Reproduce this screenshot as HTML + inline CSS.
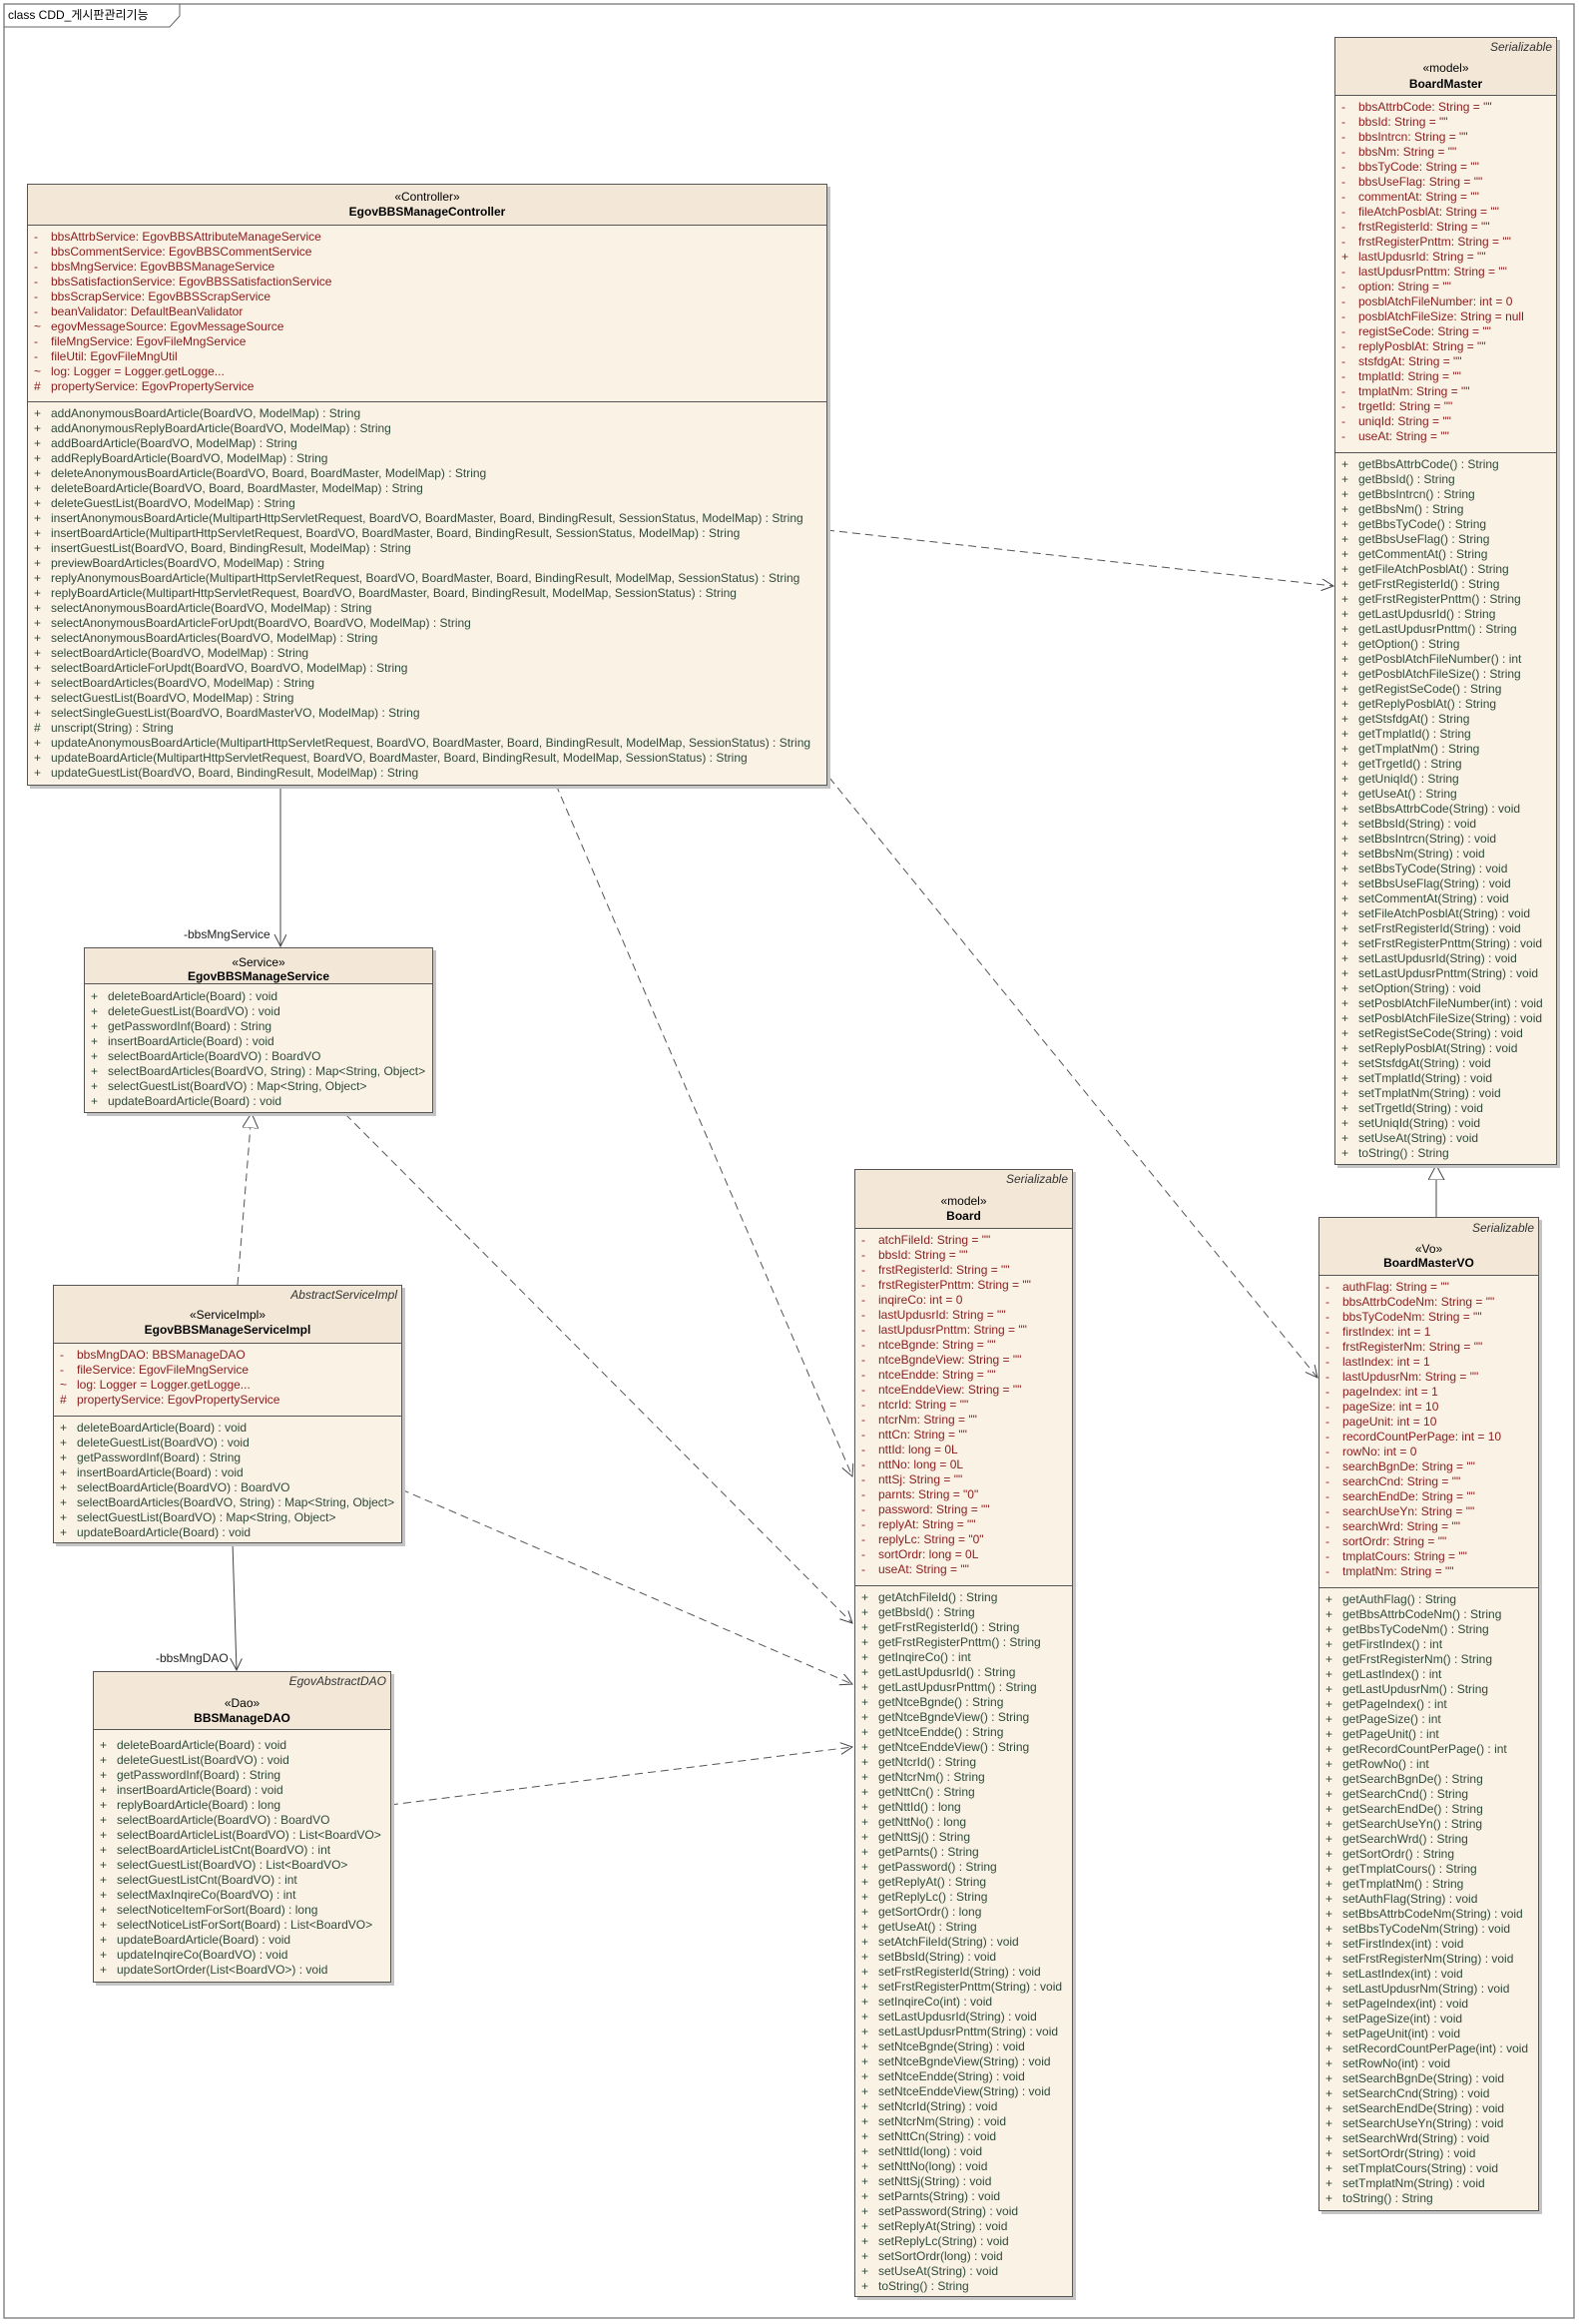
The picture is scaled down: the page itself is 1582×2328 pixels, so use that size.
<!DOCTYPE html>
<html><head><meta charset="utf-8">
<style>
html,body{margin:0;padding:0;background:#fff;}
body{width:1582px;height:2328px;position:relative;overflow:hidden;font-family:"Liberation Sans","Noto Sans CJK KR",sans-serif;font-size:12px;letter-spacing:0px;}
svg.c{position:absolute;left:0;top:0;}
.b{position:absolute;background:#fbf2e6;border:1px solid #555;box-shadow:3px 3px 0 #c4c4c4;box-sizing:border-box;}
.h{position:relative;background:#f3e8d8;border-bottom:1px solid #555;box-sizing:border-box;color:#000;}
.t{position:absolute;left:0;right:0;height:15px;line-height:15px;text-align:center;white-space:nowrap;}
.a{text-align:right;padding-right:4px;font-style:italic;color:#333;}
.n{font-weight:bold;}
.s{box-sizing:border-box;border-bottom:1px solid #555;}
.s:last-child{border-bottom:none;}
.l{height:15px;line-height:15px;white-space:nowrap;position:relative;padding-left:23px;}
.l i{position:absolute;left:6px;font-style:normal;}
.at{color:#8a1c1c;}
.me{color:#2e4a3a;}
.lab{position:absolute;font-size:12px;color:#222;white-space:nowrap;}
</style></head><body>

<svg class="c" width="1582" height="2328" viewBox="0 0 1582 2328">
<defs>
<marker id="op" markerWidth="14" markerHeight="14" refX="12" refY="6" orient="auto" markerUnits="userSpaceOnUse">
<path d="M0,0 L12,6 L0,12" fill="none" stroke="#444" stroke-width="1"/>
</marker>
<marker id="tr" markerWidth="18" markerHeight="18" refX="15" refY="8" orient="auto" markerUnits="userSpaceOnUse">
<path d="M0,0 L15,8 L0,16 Z" fill="#fff" stroke="#444" stroke-width="1"/>
</marker>
</defs>
<rect x="4" y="4" width="1573" height="2318" fill="none" stroke="#888" stroke-width="1.5"/>
<polyline points="4,27 170,27 180,16 180,4" fill="none" stroke="#666" stroke-width="1"/>
<text x="8" y="19" font-family="Liberation Sans, Noto Sans CJK KR, sans-serif" font-size="12">class CDD_게시판관리기능</text>

<g stroke="#444" stroke-width="1" fill="none">
<line x1="281" y1="786" x2="281" y2="948" marker-end="url(#op)"/>
<line x1="233" y1="1545" x2="237" y2="1673" marker-end="url(#op)"/>
<line x1="1439" y1="1219" x2="1439" y2="1167" marker-end="url(#tr)"/>
</g>
<g stroke="#555" stroke-width="1" fill="none" stroke-dasharray="8,5">
<line x1="238" y1="1287" x2="252" y2="1115" marker-end="url(#tr)"/>
<line x1="828" y1="531" x2="1336" y2="587" marker-end="url(#op)"/>
<line x1="557" y1="786" x2="854" y2="1479" marker-end="url(#op)"/>
<line x1="831" y1="779" x2="1320" y2="1380" marker-end="url(#op)"/>
<line x1="346" y1="1116" x2="854" y2="1626" marker-end="url(#op)"/>
<line x1="402" y1="1492" x2="854" y2="1687" marker-end="url(#op)"/>
<line x1="391" y1="1808" x2="854" y2="1750" marker-end="url(#op)"/>
</g>
</svg>

<div class="lab" style="left:184px;top:929px;">-bbsMngService</div>
<div class="lab" style="left:156px;top:1654px;">-bbsMngDAO</div>

<!-- Controller -->
<div class="b" style="left:27px;top:184px;width:802px;height:603px;">
<div class="h" style="height:41px;"><div class="t" style="top:5px;">«Controller»</div><div class="t n" style="top:20px;">EgovBBSManageController</div></div>
<div class="s at" style="height:177px;padding-top:4px;">
<div class="l"><i>-</i>bbsAttrbService: EgovBBSAttributeManageService</div>
<div class="l"><i>-</i>bbsCommentService: EgovBBSCommentService</div>
<div class="l"><i>-</i>bbsMngService: EgovBBSManageService</div>
<div class="l"><i>-</i>bbsSatisfactionService: EgovBBSSatisfactionService</div>
<div class="l"><i>-</i>bbsScrapService: EgovBBSScrapService</div>
<div class="l"><i>-</i>beanValidator: DefaultBeanValidator</div>
<div class="l"><i>~</i>egovMessageSource: EgovMessageSource</div>
<div class="l"><i>-</i>fileMngService: EgovFileMngService</div>
<div class="l"><i>-</i>fileUtil: EgovFileMngUtil</div>
<div class="l"><i>~</i>log: Logger = Logger.getLogge...</div>
<div class="l"><i>#</i>propertyService: EgovPropertyService</div>
</div>
<div class="s me" style="padding-top:4px;">
<div class="l"><i>+</i>addAnonymousBoardArticle(BoardVO, ModelMap) : String</div>
<div class="l"><i>+</i>addAnonymousReplyBoardArticle(BoardVO, ModelMap) : String</div>
<div class="l"><i>+</i>addBoardArticle(BoardVO, ModelMap) : String</div>
<div class="l"><i>+</i>addReplyBoardArticle(BoardVO, ModelMap) : String</div>
<div class="l"><i>+</i>deleteAnonymousBoardArticle(BoardVO, Board, BoardMaster, ModelMap) : String</div>
<div class="l"><i>+</i>deleteBoardArticle(BoardVO, Board, BoardMaster, ModelMap) : String</div>
<div class="l"><i>+</i>deleteGuestList(BoardVO, ModelMap) : String</div>
<div class="l"><i>+</i>insertAnonymousBoardArticle(MultipartHttpServletRequest, BoardVO, BoardMaster, Board, BindingResult, SessionStatus, ModelMap) : String</div>
<div class="l"><i>+</i>insertBoardArticle(MultipartHttpServletRequest, BoardVO, BoardMaster, Board, BindingResult, SessionStatus, ModelMap) : String</div>
<div class="l"><i>+</i>insertGuestList(BoardVO, Board, BindingResult, ModelMap) : String</div>
<div class="l"><i>+</i>previewBoardArticles(BoardVO, ModelMap) : String</div>
<div class="l"><i>+</i>replyAnonymousBoardArticle(MultipartHttpServletRequest, BoardVO, BoardMaster, Board, BindingResult, ModelMap, SessionStatus) : String</div>
<div class="l"><i>+</i>replyBoardArticle(MultipartHttpServletRequest, BoardVO, BoardMaster, Board, BindingResult, ModelMap, SessionStatus) : String</div>
<div class="l"><i>+</i>selectAnonymousBoardArticle(BoardVO, ModelMap) : String</div>
<div class="l"><i>+</i>selectAnonymousBoardArticleForUpdt(BoardVO, BoardVO, ModelMap) : String</div>
<div class="l"><i>+</i>selectAnonymousBoardArticles(BoardVO, ModelMap) : String</div>
<div class="l"><i>+</i>selectBoardArticle(BoardVO, ModelMap) : String</div>
<div class="l"><i>+</i>selectBoardArticleForUpdt(BoardVO, BoardVO, ModelMap) : String</div>
<div class="l"><i>+</i>selectBoardArticles(BoardVO, ModelMap) : String</div>
<div class="l"><i>+</i>selectGuestList(BoardVO, ModelMap) : String</div>
<div class="l"><i>+</i>selectSingleGuestList(BoardVO, BoardMasterVO, ModelMap) : String</div>
<div class="l"><i>#</i>unscript(String) : String</div>
<div class="l"><i>+</i>updateAnonymousBoardArticle(MultipartHttpServletRequest, BoardVO, BoardMaster, Board, BindingResult, ModelMap, SessionStatus) : String</div>
<div class="l"><i>+</i>updateBoardArticle(MultipartHttpServletRequest, BoardVO, BoardMaster, Board, BindingResult, ModelMap, SessionStatus) : String</div>
<div class="l"><i>+</i>updateGuestList(BoardVO, Board, BindingResult, ModelMap) : String</div>
</div>
</div>

<!-- BoardMaster -->
<div class="b" style="left:1337px;top:37px;width:223px;height:1130px;">
<div class="h" style="height:58px;"><div class="t a" style="top:2px;">Serializable</div><div class="t" style="top:23px;">«model»</div><div class="t n" style="top:39px;">BoardMaster</div></div>
<div class="s at" style="height:358px;padding-top:4px;">
<div class="l"><i>-</i>bbsAttrbCode: String = ""</div>
<div class="l"><i>-</i>bbsId: String = ""</div>
<div class="l"><i>-</i>bbsIntrcn: String = ""</div>
<div class="l"><i>-</i>bbsNm: String = ""</div>
<div class="l"><i>-</i>bbsTyCode: String = ""</div>
<div class="l"><i>-</i>bbsUseFlag: String = ""</div>
<div class="l"><i>-</i>commentAt: String = ""</div>
<div class="l"><i>-</i>fileAtchPosblAt: String = ""</div>
<div class="l"><i>-</i>frstRegisterId: String = ""</div>
<div class="l"><i>-</i>frstRegisterPnttm: String = ""</div>
<div class="l"><i>+</i>lastUpdusrId: String = ""</div>
<div class="l"><i>-</i>lastUpdusrPnttm: String = ""</div>
<div class="l"><i>-</i>option: String = ""</div>
<div class="l"><i>-</i>posblAtchFileNumber: int = 0</div>
<div class="l"><i>-</i>posblAtchFileSize: String = null</div>
<div class="l"><i>-</i>registSeCode: String = ""</div>
<div class="l"><i>-</i>replyPosblAt: String = ""</div>
<div class="l"><i>-</i>stsfdgAt: String = ""</div>
<div class="l"><i>-</i>tmplatId: String = ""</div>
<div class="l"><i>-</i>tmplatNm: String = ""</div>
<div class="l"><i>-</i>trgetId: String = ""</div>
<div class="l"><i>-</i>uniqId: String = ""</div>
<div class="l"><i>-</i>useAt: String = ""</div>
</div>
<div class="s me" style="padding-top:4px;">
<div class="l"><i>+</i>getBbsAttrbCode() : String</div>
<div class="l"><i>+</i>getBbsId() : String</div>
<div class="l"><i>+</i>getBbsIntrcn() : String</div>
<div class="l"><i>+</i>getBbsNm() : String</div>
<div class="l"><i>+</i>getBbsTyCode() : String</div>
<div class="l"><i>+</i>getBbsUseFlag() : String</div>
<div class="l"><i>+</i>getCommentAt() : String</div>
<div class="l"><i>+</i>getFileAtchPosblAt() : String</div>
<div class="l"><i>+</i>getFrstRegisterId() : String</div>
<div class="l"><i>+</i>getFrstRegisterPnttm() : String</div>
<div class="l"><i>+</i>getLastUpdusrId() : String</div>
<div class="l"><i>+</i>getLastUpdusrPnttm() : String</div>
<div class="l"><i>+</i>getOption() : String</div>
<div class="l"><i>+</i>getPosblAtchFileNumber() : int</div>
<div class="l"><i>+</i>getPosblAtchFileSize() : String</div>
<div class="l"><i>+</i>getRegistSeCode() : String</div>
<div class="l"><i>+</i>getReplyPosblAt() : String</div>
<div class="l"><i>+</i>getStsfdgAt() : String</div>
<div class="l"><i>+</i>getTmplatId() : String</div>
<div class="l"><i>+</i>getTmplatNm() : String</div>
<div class="l"><i>+</i>getTrgetId() : String</div>
<div class="l"><i>+</i>getUniqId() : String</div>
<div class="l"><i>+</i>getUseAt() : String</div>
<div class="l"><i>+</i>setBbsAttrbCode(String) : void</div>
<div class="l"><i>+</i>setBbsId(String) : void</div>
<div class="l"><i>+</i>setBbsIntrcn(String) : void</div>
<div class="l"><i>+</i>setBbsNm(String) : void</div>
<div class="l"><i>+</i>setBbsTyCode(String) : void</div>
<div class="l"><i>+</i>setBbsUseFlag(String) : void</div>
<div class="l"><i>+</i>setCommentAt(String) : void</div>
<div class="l"><i>+</i>setFileAtchPosblAt(String) : void</div>
<div class="l"><i>+</i>setFrstRegisterId(String) : void</div>
<div class="l"><i>+</i>setFrstRegisterPnttm(String) : void</div>
<div class="l"><i>+</i>setLastUpdusrId(String) : void</div>
<div class="l"><i>+</i>setLastUpdusrPnttm(String) : void</div>
<div class="l"><i>+</i>setOption(String) : void</div>
<div class="l"><i>+</i>setPosblAtchFileNumber(int) : void</div>
<div class="l"><i>+</i>setPosblAtchFileSize(String) : void</div>
<div class="l"><i>+</i>setRegistSeCode(String) : void</div>
<div class="l"><i>+</i>setReplyPosblAt(String) : void</div>
<div class="l"><i>+</i>setStsfdgAt(String) : void</div>
<div class="l"><i>+</i>setTmplatId(String) : void</div>
<div class="l"><i>+</i>setTmplatNm(String) : void</div>
<div class="l"><i>+</i>setTrgetId(String) : void</div>
<div class="l"><i>+</i>setUniqId(String) : void</div>
<div class="l"><i>+</i>setUseAt(String) : void</div>
<div class="l"><i>+</i>toString() : String</div>
</div>
</div>

<!-- Service -->
<div class="b" style="left:84px;top:949px;width:350px;height:166px;">
<div class="h" style="height:36px;"><div class="t" style="top:7px;">«Service»</div><div class="t n" style="top:21px;">EgovBBSManageService</div></div>
<div class="s me" style="padding-top:5px;">
<div class="l"><i>+</i>deleteBoardArticle(Board) : void</div>
<div class="l"><i>+</i>deleteGuestList(BoardVO) : void</div>
<div class="l"><i>+</i>getPasswordInf(Board) : String</div>
<div class="l"><i>+</i>insertBoardArticle(Board) : void</div>
<div class="l"><i>+</i>selectBoardArticle(BoardVO) : BoardVO</div>
<div class="l"><i>+</i>selectBoardArticles(BoardVO, String) : Map&lt;String, Object&gt;</div>
<div class="l"><i>+</i>selectGuestList(BoardVO) : Map&lt;String, Object&gt;</div>
<div class="l"><i>+</i>updateBoardArticle(Board) : void</div>
</div>
</div>

<!-- ServiceImpl -->
<div class="b" style="left:53px;top:1287px;width:350px;height:259px;">
<div class="h" style="height:58px;"><div class="t a" style="top:2px;">AbstractServiceImpl</div><div class="t" style="top:22px;">«ServiceImpl»</div><div class="t n" style="top:37px;">EgovBBSManageServiceImpl</div></div>
<div class="s at" style="height:73px;padding-top:4px;">
<div class="l"><i>-</i>bbsMngDAO: BBSManageDAO</div>
<div class="l"><i>-</i>fileService: EgovFileMngService</div>
<div class="l"><i>~</i>log: Logger = Logger.getLogge...</div>
<div class="l"><i>#</i>propertyService: EgovPropertyService</div>
</div>
<div class="s me" style="padding-top:4px;">
<div class="l"><i>+</i>deleteBoardArticle(Board) : void</div>
<div class="l"><i>+</i>deleteGuestList(BoardVO) : void</div>
<div class="l"><i>+</i>getPasswordInf(Board) : String</div>
<div class="l"><i>+</i>insertBoardArticle(Board) : void</div>
<div class="l"><i>+</i>selectBoardArticle(BoardVO) : BoardVO</div>
<div class="l"><i>+</i>selectBoardArticles(BoardVO, String) : Map&lt;String, Object&gt;</div>
<div class="l"><i>+</i>selectGuestList(BoardVO) : Map&lt;String, Object&gt;</div>
<div class="l"><i>+</i>updateBoardArticle(Board) : void</div>
</div>
</div>

<!-- DAO -->
<div class="b" style="left:93px;top:1674px;width:299px;height:312px;">
<div class="h" style="height:58px;"><div class="t a" style="top:2px;">EgovAbstractDAO</div><div class="t" style="top:24px;">«Dao»</div><div class="t n" style="top:39px;">BBSManageDAO</div></div>
<div class="s me" style="padding-top:8px;">
<div class="l"><i>+</i>deleteBoardArticle(Board) : void</div>
<div class="l"><i>+</i>deleteGuestList(BoardVO) : void</div>
<div class="l"><i>+</i>getPasswordInf(Board) : String</div>
<div class="l"><i>+</i>insertBoardArticle(Board) : void</div>
<div class="l"><i>+</i>replyBoardArticle(Board) : long</div>
<div class="l"><i>+</i>selectBoardArticle(BoardVO) : BoardVO</div>
<div class="l"><i>+</i>selectBoardArticleList(BoardVO) : List&lt;BoardVO&gt;</div>
<div class="l"><i>+</i>selectBoardArticleListCnt(BoardVO) : int</div>
<div class="l"><i>+</i>selectGuestList(BoardVO) : List&lt;BoardVO&gt;</div>
<div class="l"><i>+</i>selectGuestListCnt(BoardVO) : int</div>
<div class="l"><i>+</i>selectMaxInqireCo(BoardVO) : int</div>
<div class="l"><i>+</i>selectNoticeItemForSort(Board) : long</div>
<div class="l"><i>+</i>selectNoticeListForSort(Board) : List&lt;BoardVO&gt;</div>
<div class="l"><i>+</i>updateBoardArticle(Board) : void</div>
<div class="l"><i>+</i>updateInqireCo(BoardVO) : void</div>
<div class="l"><i>+</i>updateSortOrder(List&lt;BoardVO&gt;) : void</div>
</div>
</div>

<!-- Board -->
<div class="b" style="left:856px;top:1171px;width:219px;height:1130px;">
<div class="h" style="height:59px;"><div class="t a" style="top:2px;">Serializable</div><div class="t" style="top:24px;">«model»</div><div class="t n" style="top:39px;">Board</div></div>
<div class="s at" style="height:358px;padding-top:4px;">
<div class="l"><i>-</i>atchFileId: String = ""</div>
<div class="l"><i>-</i>bbsId: String = ""</div>
<div class="l"><i>-</i>frstRegisterId: String = ""</div>
<div class="l"><i>-</i>frstRegisterPnttm: String = ""</div>
<div class="l"><i>-</i>inqireCo: int = 0</div>
<div class="l"><i>-</i>lastUpdusrId: String = ""</div>
<div class="l"><i>-</i>lastUpdusrPnttm: String = ""</div>
<div class="l"><i>-</i>ntceBgnde: String = ""</div>
<div class="l"><i>-</i>ntceBgndeView: String = ""</div>
<div class="l"><i>-</i>ntceEndde: String = ""</div>
<div class="l"><i>-</i>ntceEnddeView: String = ""</div>
<div class="l"><i>-</i>ntcrId: String = ""</div>
<div class="l"><i>-</i>ntcrNm: String = ""</div>
<div class="l"><i>-</i>nttCn: String = ""</div>
<div class="l"><i>-</i>nttId: long = 0L</div>
<div class="l"><i>-</i>nttNo: long = 0L</div>
<div class="l"><i>-</i>nttSj: String = ""</div>
<div class="l"><i>-</i>parnts: String = "0"</div>
<div class="l"><i>-</i>password: String = ""</div>
<div class="l"><i>-</i>replyAt: String = ""</div>
<div class="l"><i>-</i>replyLc: String = "0"</div>
<div class="l"><i>-</i>sortOrdr: long = 0L</div>
<div class="l"><i>-</i>useAt: String = ""</div>
</div>
<div class="s me" style="padding-top:4px;">
<div class="l"><i>+</i>getAtchFileId() : String</div>
<div class="l"><i>+</i>getBbsId() : String</div>
<div class="l"><i>+</i>getFrstRegisterId() : String</div>
<div class="l"><i>+</i>getFrstRegisterPnttm() : String</div>
<div class="l"><i>+</i>getInqireCo() : int</div>
<div class="l"><i>+</i>getLastUpdusrId() : String</div>
<div class="l"><i>+</i>getLastUpdusrPnttm() : String</div>
<div class="l"><i>+</i>getNtceBgnde() : String</div>
<div class="l"><i>+</i>getNtceBgndeView() : String</div>
<div class="l"><i>+</i>getNtceEndde() : String</div>
<div class="l"><i>+</i>getNtceEnddeView() : String</div>
<div class="l"><i>+</i>getNtcrId() : String</div>
<div class="l"><i>+</i>getNtcrNm() : String</div>
<div class="l"><i>+</i>getNttCn() : String</div>
<div class="l"><i>+</i>getNttId() : long</div>
<div class="l"><i>+</i>getNttNo() : long</div>
<div class="l"><i>+</i>getNttSj() : String</div>
<div class="l"><i>+</i>getParnts() : String</div>
<div class="l"><i>+</i>getPassword() : String</div>
<div class="l"><i>+</i>getReplyAt() : String</div>
<div class="l"><i>+</i>getReplyLc() : String</div>
<div class="l"><i>+</i>getSortOrdr() : long</div>
<div class="l"><i>+</i>getUseAt() : String</div>
<div class="l"><i>+</i>setAtchFileId(String) : void</div>
<div class="l"><i>+</i>setBbsId(String) : void</div>
<div class="l"><i>+</i>setFrstRegisterId(String) : void</div>
<div class="l"><i>+</i>setFrstRegisterPnttm(String) : void</div>
<div class="l"><i>+</i>setInqireCo(int) : void</div>
<div class="l"><i>+</i>setLastUpdusrId(String) : void</div>
<div class="l"><i>+</i>setLastUpdusrPnttm(String) : void</div>
<div class="l"><i>+</i>setNtceBgnde(String) : void</div>
<div class="l"><i>+</i>setNtceBgndeView(String) : void</div>
<div class="l"><i>+</i>setNtceEndde(String) : void</div>
<div class="l"><i>+</i>setNtceEnddeView(String) : void</div>
<div class="l"><i>+</i>setNtcrId(String) : void</div>
<div class="l"><i>+</i>setNtcrNm(String) : void</div>
<div class="l"><i>+</i>setNttCn(String) : void</div>
<div class="l"><i>+</i>setNttId(long) : void</div>
<div class="l"><i>+</i>setNttNo(long) : void</div>
<div class="l"><i>+</i>setNttSj(String) : void</div>
<div class="l"><i>+</i>setParnts(String) : void</div>
<div class="l"><i>+</i>setPassword(String) : void</div>
<div class="l"><i>+</i>setReplyAt(String) : void</div>
<div class="l"><i>+</i>setReplyLc(String) : void</div>
<div class="l"><i>+</i>setSortOrdr(long) : void</div>
<div class="l"><i>+</i>setUseAt(String) : void</div>
<div class="l"><i>+</i>toString() : String</div>
</div>
</div>

<!-- BoardMasterVO -->
<div class="b" style="left:1321px;top:1219px;width:221px;height:996px;">
<div class="h" style="height:58px;"><div class="t a" style="top:3px;">Serializable</div><div class="t" style="top:24px;">«Vo»</div><div class="t n" style="top:38px;">BoardMasterVO</div></div>
<div class="s at" style="height:313px;padding-top:4px;">
<div class="l"><i>-</i>authFlag: String = ""</div>
<div class="l"><i>-</i>bbsAttrbCodeNm: String = ""</div>
<div class="l"><i>-</i>bbsTyCodeNm: String = ""</div>
<div class="l"><i>-</i>firstIndex: int = 1</div>
<div class="l"><i>-</i>frstRegisterNm: String = ""</div>
<div class="l"><i>-</i>lastIndex: int = 1</div>
<div class="l"><i>-</i>lastUpdusrNm: String = ""</div>
<div class="l"><i>-</i>pageIndex: int = 1</div>
<div class="l"><i>-</i>pageSize: int = 10</div>
<div class="l"><i>-</i>pageUnit: int = 10</div>
<div class="l"><i>-</i>recordCountPerPage: int = 10</div>
<div class="l"><i>-</i>rowNo: int = 0</div>
<div class="l"><i>-</i>searchBgnDe: String = ""</div>
<div class="l"><i>-</i>searchCnd: String = ""</div>
<div class="l"><i>-</i>searchEndDe: String = ""</div>
<div class="l"><i>-</i>searchUseYn: String = ""</div>
<div class="l"><i>-</i>searchWrd: String = ""</div>
<div class="l"><i>-</i>sortOrdr: String = ""</div>
<div class="l"><i>-</i>tmplatCours: String = ""</div>
<div class="l"><i>-</i>tmplatNm: String = ""</div>
</div>
<div class="s me" style="padding-top:4px;">
<div class="l"><i>+</i>getAuthFlag() : String</div>
<div class="l"><i>+</i>getBbsAttrbCodeNm() : String</div>
<div class="l"><i>+</i>getBbsTyCodeNm() : String</div>
<div class="l"><i>+</i>getFirstIndex() : int</div>
<div class="l"><i>+</i>getFrstRegisterNm() : String</div>
<div class="l"><i>+</i>getLastIndex() : int</div>
<div class="l"><i>+</i>getLastUpdusrNm() : String</div>
<div class="l"><i>+</i>getPageIndex() : int</div>
<div class="l"><i>+</i>getPageSize() : int</div>
<div class="l"><i>+</i>getPageUnit() : int</div>
<div class="l"><i>+</i>getRecordCountPerPage() : int</div>
<div class="l"><i>+</i>getRowNo() : int</div>
<div class="l"><i>+</i>getSearchBgnDe() : String</div>
<div class="l"><i>+</i>getSearchCnd() : String</div>
<div class="l"><i>+</i>getSearchEndDe() : String</div>
<div class="l"><i>+</i>getSearchUseYn() : String</div>
<div class="l"><i>+</i>getSearchWrd() : String</div>
<div class="l"><i>+</i>getSortOrdr() : String</div>
<div class="l"><i>+</i>getTmplatCours() : String</div>
<div class="l"><i>+</i>getTmplatNm() : String</div>
<div class="l"><i>+</i>setAuthFlag(String) : void</div>
<div class="l"><i>+</i>setBbsAttrbCodeNm(String) : void</div>
<div class="l"><i>+</i>setBbsTyCodeNm(String) : void</div>
<div class="l"><i>+</i>setFirstIndex(int) : void</div>
<div class="l"><i>+</i>setFrstRegisterNm(String) : void</div>
<div class="l"><i>+</i>setLastIndex(int) : void</div>
<div class="l"><i>+</i>setLastUpdusrNm(String) : void</div>
<div class="l"><i>+</i>setPageIndex(int) : void</div>
<div class="l"><i>+</i>setPageSize(int) : void</div>
<div class="l"><i>+</i>setPageUnit(int) : void</div>
<div class="l"><i>+</i>setRecordCountPerPage(int) : void</div>
<div class="l"><i>+</i>setRowNo(int) : void</div>
<div class="l"><i>+</i>setSearchBgnDe(String) : void</div>
<div class="l"><i>+</i>setSearchCnd(String) : void</div>
<div class="l"><i>+</i>setSearchEndDe(String) : void</div>
<div class="l"><i>+</i>setSearchUseYn(String) : void</div>
<div class="l"><i>+</i>setSearchWrd(String) : void</div>
<div class="l"><i>+</i>setSortOrdr(String) : void</div>
<div class="l"><i>+</i>setTmplatCours(String) : void</div>
<div class="l"><i>+</i>setTmplatNm(String) : void</div>
<div class="l"><i>+</i>toString() : String</div>
</div>
</div>

</body></html>
